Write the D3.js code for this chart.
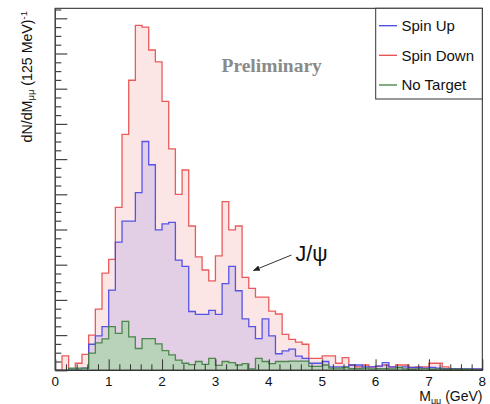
<!DOCTYPE html>
<html><head><meta charset="utf-8">
<script src="https://cdn.jsdelivr.net/npm/d3@7"></script>
<style>body{margin:0;background:#fff}svg{display:block}</style>
</head><body>
<svg id="c" width="490" height="404"></svg>
<script>
// ---- data (counts per 125 MeV bin, 0 - 8 GeV, 64 bins) ----
const binWidth = 0.125;
const spinDown = [0,4.1,0.5,2,4.5,10,17.4,27.6,31.5,46.3,67,82.4,98,97.5,91,87.6,
  76.4,62.9,50,56.9,41,32.2,28.5,25.4,32.5,47.9,39.9,41,26.4,23.3,20.8,20.8,
  16.8,16,10.2,8.8,8,7.4,3.4,3.4,4.1,4.1,2,3.6,1.5,1,1.5,1,
  1.2,1.5,1,1.5,1.5,0.8,1,1,2,2,1,0.5,0.5,0.3,0.3,0.3];
const spinUp = [0,0,0.3,0.3,0.6,7.4,9.8,12.4,22.8,36.4,42.4,42.4,50.5,65,58.4,39.9,
  41.6,42,31.3,29.5,16.7,15.9,15.9,17,15.9,24.6,29.5,22.6,14.6,12.4,9,14.6,
  9.8,4.7,5.5,6,4,3.4,2,2,2.5,1,1,1,1.5,1.5,1,1,
  1.2,2.2,1,0.8,1,0.8,0.8,0.6,0.8,0.6,0.5,0.5,0.4,0.4,0.4,0.4];
const noTarget = [0,0,0.6,0.6,0.6,4.9,7.8,8.9,12.4,10.5,13.9,9.5,6.2,9,9,7.5,
  5.6,4.4,2.9,2,1.6,2.5,1.7,3.4,1.4,2.5,2.2,1.5,1.9,0.4,3.4,2.5,
  1.9,2.5,2.5,2.6,2.6,2.6,1.1,1.1,1.5,0.6,0.6,0.8,0.5,0.5,0.6,0.4,
  0.5,0.5,0.4,0.8,0.4,0.3,0.4,0.5,0.3,0.4,0.3,0.3,0.3,0.3,0.2,0.2];
const xTicks = [0,1,2,3,4,5,6,7,8];
const seriesNames = ["Spin Up","Spin Down","No Target"];

// ---- layout ----
const svg = d3.select("#c");
const L = 55.3, R = 482.3, T = 8.3, B = 370.3;
const x = d3.scaleLinear().domain([0, 8]).range([L, R]);
const y = d3.scaleLinear().domain([0, (B - T) / 3.52]).range([B, T]);

const styles = {
  "Spin Down": {fill: "rgba(230,40,40,0.12)", stroke: "#e84a4a", data: spinDown},
  "Spin Up":   {fill: "rgba(40,40,230,0.12)", stroke: "#4646e6", data: spinUp},
  "No Target": {fill: "rgba(160,215,160,0.62)", stroke: "#3f7f3f", data: noTarget}
};

function pts(vals) {
  const p = vals.map((v, i) => [i * binWidth, v]);
  p.push([vals.length * binWidth, vals[vals.length - 1]]);
  return p;
}
const area = d3.area().curve(d3.curveStepAfter)
  .x(d => x(d[0])).y0(y(0)).y1(d => y(d[1]));
const outline = d3.line().x(d => x(d[0])).y(d => y(d[1]));

const plot = svg.append("g");
["Spin Down", "Spin Up", "No Target"].forEach(name => {
  const s = styles[name];
  plot.append("path").attr("d", area(pts(s.data))).attr("fill", s.fill).attr("stroke", "none");
  const out = [[0, 0]];
  s.data.forEach((v, i) => { out.push([i * binWidth, v]); out.push([(i + 1) * binWidth, v]); });
  out.push([8, 0]);
  plot.append("path").attr("d", outline(out))
    .attr("fill", "none").attr("stroke", s.stroke).attr("stroke-width", 1.3)
    .attr("stroke-opacity", 0.9);
});

// ---- frame ----
svg.append("rect").attr("x", L).attr("y", T).attr("width", R - L).attr("height", B - T)
  .attr("fill", "none").attr("stroke", "#222").attr("stroke-width", 1);

// ---- x axis (ticks inside, up) ----
const xMinor = d3.range(0, 8.0001, 0.2).filter(v => Math.abs(v - Math.round(v)) > 1e-6);
const gx1 = svg.append("g").attr("transform", `translate(0,${B})`)
  .call(d3.axisBottom(x).tickValues(xTicks).tickSize(-11).tickFormat(""));
const gx2 = svg.append("g").attr("transform", `translate(0,${B})`)
  .call(d3.axisBottom(x).tickValues(xMinor).tickSize(-6).tickFormat(""));
[gx1, gx2].forEach(g => { g.select(".domain").remove(); g.selectAll("line").attr("stroke", "#333"); });
svg.append("line").attr("x1", L).attr("x2", R).attr("y1", B).attr("y2", B)
  .attr("stroke", "#333").attr("stroke-width", 1.2);
svg.append("g").selectAll("text").data(xTicks).join("text")
  .attr("x", d => x(d)).attr("y", 385.5).attr("text-anchor", "middle")
  .attr("font-family", "Liberation Sans, Arial, sans-serif").attr("font-size", 13.5)
  .attr("fill", "#111").text(d => d);

// ---- y axis (ticks inside, right, no labels) ----
const yMajor = d3.range(0, 101, 10);
const yMinor = d3.range(0, 103, 2.5).filter(v => v % 10 !== 0);
const gy1 = svg.append("g").attr("transform", `translate(${L},0)`)
  .call(d3.axisLeft(y).tickValues(yMajor).tickSize(-12).tickFormat(""));
const gy2 = svg.append("g").attr("transform", `translate(${L},0)`)
  .call(d3.axisLeft(y).tickValues(yMinor).tickSize(-6).tickFormat(""));
[gy1, gy2].forEach(g => { g.select(".domain").remove(); g.selectAll("line").attr("stroke", "#444").attr("stroke-width", 1.2); });
svg.append("line").attr("x1", L).attr("x2", L).attr("y1", T).attr("y2", B)
  .attr("stroke", "#444").attr("stroke-width", 1.4);

// ---- axis titles ----
const xt = svg.append("text").attr("x", 482.5).attr("y", 401).attr("text-anchor", "end")
  .attr("font-family", "Liberation Sans, Arial, sans-serif").attr("font-size", 14).attr("fill", "#111");
xt.append("tspan").text("M");
xt.append("tspan").attr("font-size", 9).attr("dy", 2.5).text("μμ");
xt.append("tspan").attr("dy", -2.5).text(" (GeV)");

const yt = svg.append("text").attr("transform", "translate(31.5,11) rotate(-90)").attr("text-anchor", "end")
  .attr("font-family", "Liberation Sans, Arial, sans-serif").attr("font-size", 14.2).attr("fill", "#111");
yt.append("tspan").text("dN/dM");
yt.append("tspan").attr("font-size", 9.5).attr("dy", 2.5).text("μμ");
yt.append("tspan").attr("dy", -2.5).text(" (125 MeV)");
yt.append("tspan").attr("font-size", 9.5).attr("dy", -5).text("-1");

// ---- Preliminary ----
svg.append("text").attr("x", 221.5).attr("y", 71.7)
  .attr("font-family", "Liberation Serif, Times New Roman, serif").attr("font-weight", "bold")
  .attr("font-size", 19.5).attr("fill", "#8a8a8a").text("Preliminary");

// ---- J/psi annotation ----
svg.append("defs").append("marker").attr("id", "ah").attr("viewBox", "0 0 10 10")
  .attr("refX", 9).attr("refY", 5).attr("markerWidth", 7).attr("markerHeight", 7)
  .attr("orient", "auto").append("path").attr("d", "M0,1 L10,5 L0,9 Z").attr("fill", "#222");
svg.append("line").attr("x1", 291.5).attr("y1", 255).attr("x2", 253.5).attr("y2", 270.5)
  .attr("stroke", "#333").attr("stroke-width", 1).attr("marker-end", "url(#ah)");
svg.append("text").attr("x", 295.5).attr("y", 260.5)
  .attr("font-family", "Liberation Sans, Arial, sans-serif").attr("font-size", 21.5)
  .attr("fill", "#111").text("J/ψ");

// ---- legend ----
const lg = svg.append("g");
lg.append("rect").attr("x", 375.7).attr("y", T).attr("width", R - 375.7).attr("height", 99 - T)
  .attr("fill", "#fff").attr("stroke", "#333").attr("stroke-width", 1);
const rowY = [25.7, 55.3, 85];
seriesNames.forEach((n, i) => {
  lg.append("line").attr("x1", 379).attr("x2", 397).attr("y1", rowY[i]).attr("y2", rowY[i])
    .attr("stroke", styles[n].stroke).attr("stroke-width", 1.3);
  lg.append("text").attr("x", 401.5).attr("y", rowY[i] + 5.3)
    .attr("font-family", "Liberation Sans, Arial, sans-serif").attr("font-size", 15)
    .attr("fill", "#111").text(n);
});
</script>
</body></html>
